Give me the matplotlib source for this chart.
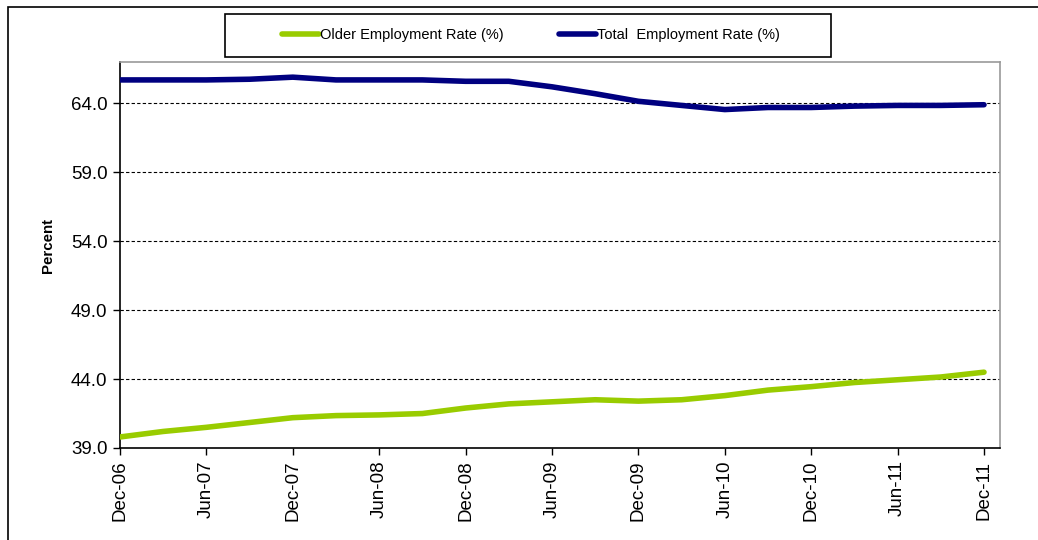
import matplotlib
matplotlib.use("Agg")
import matplotlib.pyplot as plt
from matplotlib.patches import Rectangle

plt.rcParams['font.family'] = ['Liberation Sans', 'DejaVu Sans']

quarters = ['Dec-06', 'Mar-07', 'Jun-07', 'Sep-07', 'Dec-07', 'Mar-08', 'Jun-08',
            'Sep-08', 'Dec-08', 'Mar-09', 'Jun-09', 'Sep-09', 'Dec-09', 'Mar-10',
            'Jun-10', 'Sep-10', 'Dec-10', 'Mar-11', 'Jun-11', 'Sep-11', 'Dec-11']
older_rate = [39.8, 40.2, 40.5, 40.85, 41.2, 41.35, 41.4, 41.5, 41.9, 42.2, 42.35,
              42.5, 42.4, 42.5, 42.8, 43.2, 43.45, 43.75, 43.95, 44.15, 44.5]
total_rate = [65.7, 65.7, 65.7, 65.75, 65.9, 65.7, 65.7, 65.7, 65.6, 65.6, 65.2,
              64.7, 64.15, 63.85, 63.55, 63.7, 63.7, 63.8, 63.85, 63.85, 63.9]
yticks = [39.0, 44.0, 49.0, 54.0, 59.0, 64.0]

fig = plt.figure(figsize=(10.38, 5.4), dpi=100)
ax = fig.add_axes([120/1038, 1-448/540, 880/1038, 386/540])

x = list(range(len(quarters)))
l1, = ax.plot(x, older_rate, color='#99CC00', lw=4, solid_capstyle='round',
              label='Older Employment Rate (%)', zorder=3)
l2, = ax.plot(x, total_rate, color='#000080', lw=4, solid_capstyle='round',
              label='Total  Employment Rate (%)', zorder=3)

ax.set_xlim(0, 20.37)
ax.set_ylim(39, 67)
ax.set_yticks(yticks)
ax.set_yticklabels(['%.1f' % v for v in yticks], fontsize=13.5)
ax.set_xticks(x[::2])
ax.set_xticklabels(quarters[::2], rotation=90, fontsize=13.5)
ax.tick_params(axis='both', direction='out', length=5, width=1, color='black', pad=4)

for v in yticks[1:]:
    ax.axhline(v, color='black', lw=0.8, ls=(0, (3, 2)), zorder=1)

for s in ['left', 'bottom']:
    ax.spines[s].set_color('black')
    ax.spines[s].set_linewidth(1.2)
for s in ['top', 'right']:
    ax.spines[s].set_color('#999999')
    ax.spines[s].set_linewidth(1.2)

fig.text(48/1038, 1-246/540, 'Percent', rotation=90, fontsize=10.8,
         fontweight='bold', ha='center', va='center')

# legend without frame, frame drawn as a box of its own
leg = fig.legend(handles=[l1, l2], loc='center', bbox_to_anchor=(531/1038, 1-35.5/540),
                 ncol=2, frameon=False, fontsize=10.5,
                 handlelength=2.5, handletextpad=0.1, columnspacing=3.8,
                 borderpad=0, borderaxespad=0)
fig.patches.append(Rectangle((225/1038, 1-57/540), 606/1038, 43/540,
                             transform=fig.transFigure, fill=False,
                             edgecolor='black', lw=1.2))

fig.patches.append(Rectangle((8/1038, -0.1), 1.2, 1.1 - 7/540, transform=fig.transFigure,
                             fill=False, edgecolor='black', lw=1.2, clip_on=False))

fig.savefig('out.png', dpi=100)
